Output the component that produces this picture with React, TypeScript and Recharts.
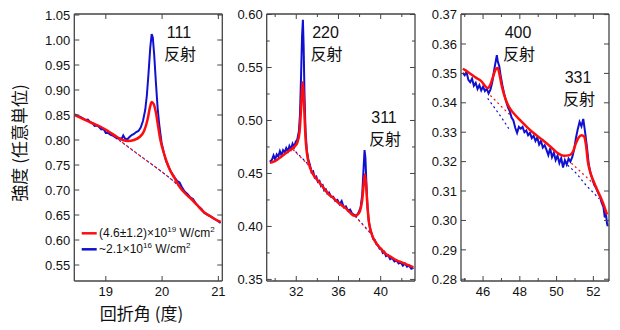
import React from "react";
import { LineChart, Line, XAxis, YAxis } from "recharts";

type Pt = [number, number];

const W = 620;
const H = 330;
const RED = "#ff0d0d";
const BLUE = "#1010d0";
const FRAME = "#444";
const FONT = '"Liberation Sans", Arial, Helvetica, sans-serif';
const CJK = '"Noto Sans CJK JP", "Noto Sans", sans-serif';

// ---- 111 reflection panel ----
const red111: Pt[] = [
  [18.45, 0.85], [18.6, 0.842], [18.75, 0.834], [18.9, 0.827], [19.05, 0.817], [19.2, 0.806],
  [19.3, 0.8], [19.4, 0.798], [19.5, 0.8], [19.6, 0.806], [19.68, 0.818], [19.74, 0.84],
  [19.79, 0.868], [19.815, 0.876], [19.85, 0.872], [19.89, 0.855], [19.93, 0.827], [19.97, 0.8],
  [20.02, 0.778], [20.08, 0.757], [20.14, 0.74], [20.22, 0.724], [20.32, 0.705], [20.42, 0.692],
  [20.52, 0.682], [20.62, 0.67], [20.73, 0.657], [20.85, 0.648], [20.95, 0.641], [21.04, 0.636],
];
const blue111: Pt[] = [
  [18.45, 0.851], [18.5, 0.848], [18.55, 0.846], [18.6, 0.843], [18.64, 0.84], [18.68, 0.841],
  [18.72, 0.836], [18.76, 0.834], [18.8, 0.828], [18.84, 0.829], [18.88, 0.826], [18.92, 0.821],
  [18.96, 0.822], [19.0, 0.814], [19.04, 0.814], [19.08, 0.811], [19.12, 0.809], [19.16, 0.806],
  [19.2, 0.803], [19.24, 0.804], [19.28, 0.802], [19.31, 0.809], [19.34, 0.803], [19.38, 0.801],
  [19.42, 0.806], [19.46, 0.81], [19.5, 0.812], [19.54, 0.816], [19.58, 0.818], [19.62, 0.825],
  [19.66, 0.838], [19.7, 0.86], [19.73, 0.89], [19.76, 0.935], [19.79, 0.985], [19.815, 1.012],
  [19.835, 1.005], [19.86, 0.97], [19.89, 0.915], [19.92, 0.865], [19.95, 0.83], [19.99, 0.795],
  [20.03, 0.775], [20.07, 0.758], [20.11, 0.748], [20.15, 0.738], [20.19, 0.731], [20.23, 0.724],
  [20.27, 0.718], [20.31, 0.715], [20.35, 0.706], [20.4, 0.697], [20.45, 0.692], [20.5, 0.685],
  [20.55, 0.682], [20.6, 0.673], [20.65, 0.667], [20.7, 0.662], [20.75, 0.654], [20.8, 0.651],
  [20.85, 0.648], [20.9, 0.645], [20.95, 0.641], [21.0, 0.637], [21.04, 0.634],
];
const redBase111: Pt[] = [[19.15, 0.808], [19.4, 0.786], [19.7, 0.761], [20.0, 0.736], [20.25, 0.713], [20.45, 0.692]];
const blueBase111: Pt[] = [[19.1, 0.812], [19.35, 0.79], [19.65, 0.765], [19.95, 0.74], [20.2, 0.718], [20.42, 0.694]];

// ---- 220 / 311 panel ----
const red220: Pt[] = [
  [29.5, 0.46], [29.8, 0.461], [30.2, 0.463], [30.6, 0.466], [31.0, 0.469], [31.4, 0.472],
  [31.8, 0.475], [32.1, 0.479], [32.3, 0.488], [32.45, 0.51], [32.55, 0.53], [32.62, 0.536],
  [32.7, 0.525], [32.78, 0.505], [32.88, 0.483], [33.0, 0.47], [33.2, 0.459], [33.5, 0.451],
  [33.9, 0.445], [34.3, 0.44], [34.7, 0.435], [35.1, 0.43], [35.5, 0.427], [35.9, 0.423],
  [36.3, 0.42], [36.7, 0.417], [37.1, 0.413], [37.5, 0.41], [37.8, 0.411], [38.05, 0.415],
  [38.25, 0.425], [38.4, 0.441], [38.5, 0.449], [38.6, 0.441], [38.72, 0.423], [38.85, 0.407],
  [39.0, 0.398], [39.3, 0.389], [39.6, 0.384], [40.0, 0.379], [40.5, 0.374], [41.0, 0.371],
  [41.5, 0.368], [42.0, 0.366], [42.5, 0.364], [43.1, 0.3615],
];
const blue220: Pt[] = [
  [29.5, 0.461], [29.7, 0.463], [29.85, 0.467], [30.0, 0.463], [30.15, 0.468], [30.3, 0.466],
  [30.45, 0.471], [30.6, 0.467], [30.75, 0.472], [30.9, 0.47], [31.05, 0.474], [31.2, 0.471],
  [31.35, 0.476], [31.5, 0.473], [31.65, 0.478], [31.8, 0.475], [31.95, 0.48], [32.1, 0.482],
  [32.25, 0.49], [32.35, 0.505], [32.45, 0.54], [32.55, 0.58], [32.63, 0.595], [32.7, 0.57],
  [32.78, 0.525], [32.88, 0.49], [33.0, 0.472], [33.15, 0.463], [33.3, 0.458], [33.45, 0.451],
  [33.6, 0.452], [33.75, 0.446], [33.9, 0.447], [34.05, 0.442], [34.2, 0.443], [34.35, 0.438],
  [34.5, 0.439], [34.65, 0.434], [34.8, 0.435], [34.95, 0.431], [35.1, 0.432], [35.3, 0.428],
  [35.5, 0.428], [35.7, 0.424], [35.9, 0.425], [36.1, 0.421], [36.3, 0.424], [36.5, 0.418],
  [36.7, 0.419], [36.9, 0.415], [37.1, 0.416], [37.3, 0.412], [37.5, 0.411], [37.7, 0.41],
  [37.9, 0.413], [38.1, 0.418], [38.25, 0.43], [38.38, 0.455], [38.47, 0.472], [38.55, 0.465],
  [38.65, 0.44], [38.75, 0.418], [38.87, 0.405], [39.0, 0.398], [39.15, 0.393], [39.3, 0.388],
  [39.45, 0.387], [39.6, 0.383], [39.75, 0.382], [39.9, 0.379], [40.05, 0.379], [40.2, 0.375],
  [40.35, 0.376], [40.5, 0.372], [40.7, 0.373], [40.9, 0.369], [41.1, 0.37], [41.3, 0.367],
  [41.5, 0.368], [41.7, 0.365], [41.9, 0.366], [42.1, 0.363], [42.3, 0.365], [42.5, 0.362],
  [42.7, 0.363], [42.9, 0.36], [43.1, 0.361],
];
const redBase220a: Pt[] = [[31.7, 0.4725], [32.1, 0.4685], [32.5, 0.4645], [32.9, 0.4605], [33.3, 0.456], [33.5, 0.453]];
const blueBase220a: Pt[] = [[31.6, 0.474], [32.0, 0.47], [32.4, 0.466], [32.8, 0.462], [33.2, 0.4575], [33.45, 0.454]];
const redBase311: Pt[] = [[37.6, 0.4095], [38.0, 0.405], [38.4, 0.4005], [38.8, 0.396], [39.2, 0.392]];
const blueBase311: Pt[] = [[37.55, 0.41], [37.95, 0.4058], [38.35, 0.4013], [38.75, 0.397], [39.15, 0.393]];

// ---- 400 / 331 panel ----
const red400: Pt[] = [
  [44.9, 0.3516], [45.1, 0.3508], [45.3, 0.3499], [45.5, 0.349], [45.7, 0.3482], [45.9, 0.3474],
  [46.1, 0.3458], [46.25, 0.345], [46.4, 0.3462], [46.55, 0.349], [46.7, 0.3515], [46.8, 0.3518],
  [46.9, 0.3495], [47.0, 0.3462], [47.1, 0.3437], [47.25, 0.3408], [47.45, 0.3382], [47.7, 0.3362],
  [48.0, 0.3342], [48.3, 0.3323], [48.6, 0.3305], [48.9, 0.329], [49.2, 0.3275], [49.5, 0.326],
  [49.8, 0.3243], [50.1, 0.3227], [50.4, 0.322], [50.7, 0.3222], [50.9, 0.3235], [51.05, 0.3262],
  [51.2, 0.3282], [51.35, 0.329], [51.5, 0.3285], [51.6, 0.3255], [51.7, 0.32], [51.85, 0.316],
  [52.0, 0.3135], [52.2, 0.3105], [52.4, 0.3078], [52.55, 0.3055], [52.7, 0.3028], [52.75, 0.302],
];
const blue400: Pt[] = [
  [44.9, 0.3502], [45.0, 0.3494], [45.1, 0.3505], [45.2, 0.3478], [45.3, 0.347], [45.4, 0.3482],
  [45.5, 0.3458], [45.6, 0.3468], [45.7, 0.3447], [45.8, 0.346], [45.9, 0.3442], [46.0, 0.3455],
  [46.1, 0.344], [46.2, 0.3448], [46.3, 0.3432], [46.4, 0.3445], [46.5, 0.347], [46.6, 0.351],
  [46.7, 0.3545], [46.75, 0.3562], [46.8, 0.354], [46.88, 0.3525], [46.95, 0.3495], [47.05, 0.346],
  [47.15, 0.343], [47.25, 0.3405], [47.35, 0.3385], [47.45, 0.3372], [47.55, 0.335], [47.65, 0.334],
  [47.75, 0.3315], [47.85, 0.3298], [47.95, 0.3318], [48.05, 0.3312], [48.15, 0.3318], [48.25, 0.33],
  [48.35, 0.3306], [48.45, 0.329], [48.55, 0.3298], [48.65, 0.328], [48.75, 0.3288], [48.85, 0.327],
  [48.95, 0.3282], [49.05, 0.3258], [49.15, 0.327], [49.25, 0.3248], [49.35, 0.3256], [49.45, 0.324],
  [49.55, 0.3222], [49.65, 0.3245], [49.75, 0.3215], [49.85, 0.323], [49.95, 0.3205], [50.05, 0.322],
  [50.15, 0.3195], [50.25, 0.3212], [50.35, 0.318], [50.45, 0.3205], [50.55, 0.319], [50.65, 0.321],
  [50.75, 0.32], [50.85, 0.3215], [50.95, 0.324], [51.05, 0.328], [51.15, 0.331], [51.25, 0.3335],
  [51.35, 0.332], [51.45, 0.3345], [51.55, 0.33], [51.65, 0.325], [51.75, 0.319], [51.85, 0.316],
  [51.95, 0.314], [52.05, 0.312], [52.15, 0.311], [52.25, 0.3095], [52.35, 0.3082], [52.45, 0.306],
  [52.55, 0.3045], [52.62, 0.301], [52.68, 0.3025], [52.74, 0.299], [52.78, 0.298],
];
const redBase400: Pt[] = [[46.4, 0.3425], [46.8, 0.34], [47.2, 0.3375], [47.5, 0.3357]];
const blueBase400: Pt[] = [[46.25, 0.3415], [46.6, 0.3385], [47.0, 0.335], [47.4, 0.3312]];
const redBase331: Pt[] = [[50.8, 0.3195], [51.3, 0.3166], [51.8, 0.3137], [52.2, 0.3113]];
const blueBase331: Pt[] = [[50.6, 0.3188], [51.1, 0.3158], [51.6, 0.312], [52.1, 0.3088], [52.3, 0.3074]];

// ---- ticks ----
const x111Ticks = [19, 20, 21];
const y111Ticks = [0.55, 0.6, 0.65, 0.7, 0.75, 0.8, 0.85, 0.9, 0.95, 1.0, 1.05];
const x220Ticks = [30, 32, 34, 36, 38, 40, 42];
const x220Major = [32, 36, 40];
const y220Ticks = [0.35, 0.375, 0.4, 0.425, 0.45, 0.475, 0.5, 0.525, 0.55, 0.575, 0.6];
const y220Major = [0.35, 0.4, 0.45, 0.5, 0.55, 0.6];
const x400Ticks = [45, 46, 47, 48, 49, 50, 51, 52];
const x400Major = [46, 48, 50, 52];
const y400Ticks = [0.28, 0.29, 0.3, 0.31, 0.32, 0.33, 0.34, 0.35, 0.36, 0.37];

const toObjs = (a: Pt[]) => a.map(([x, y]) => ({ x, y }));

function tickRenderer(side: string, major: number[], fmt?: (v: number) => string) {
  return (props: any) => {
    const { x, y, payload } = props;
    const v = payload.value;
    const isMajor = major.some((m) => Math.abs(m - v) < 1e-6);
    const len = isMajor ? 5 : 3;
    let l = { x1: x, y1: y, x2: x, y2: y };
    if (side === "left") l = { x1: x, y1: y, x2: x + len, y2: y };
    if (side === "right") l = { x1: x, y1: y, x2: x - len, y2: y };
    if (side === "top") l = { x1: x, y1: y, x2: x, y2: y + len };
    if (side === "bottom") l = { x1: x, y1: y, x2: x, y2: y - len };
    return (
      <g>
        <line {...l} stroke={FRAME} strokeWidth={1} />
        {fmt && isMajor && side === "left" ? (
          <text x={x - 4} y={y} dy="0.36em" textAnchor="end" fontSize={13} fontFamily={FONT} fill="#111">
            {fmt(v)}
          </text>
        ) : null}
        {fmt && isMajor && side === "bottom" ? (
          <text x={x} y={y + 15} textAnchor="middle" fontSize={13} fontFamily={FONT} fill="#111">
            {fmt(v)}
          </text>
        ) : null}
      </g>
    );
  };
}

type PanelProps = {
  plot: { left: number; right: number; top: number; bottom: number };
  xDomain: [number, number];
  yDomain: [number, number];
  xTicks: number[];
  xMajor: number[];
  yTicks: number[];
  yMajor: number[];
  yFmt: (v: number) => string;
  red: Pt[];
  blue: Pt[];
  redBase: Pt[][];
  blueBase: Pt[][];
};

function Panel(p: PanelProps) {
  const margin = {
    left: p.plot.left - 40,
    right: W - p.plot.right - 5,
    top: p.plot.top - 5,
    bottom: H - p.plot.bottom - 30,
  };
  const axisLine = { stroke: FRAME, strokeWidth: 1.3 };
  return (
    <div style={{ position: "absolute", left: 0, top: 0 }}>
      <LineChart width={W} height={H} margin={margin}>
        <XAxis xAxisId="b" type="number" dataKey="x" domain={p.xDomain} allowDataOverflow ticks={p.xTicks}
          interval={0} height={30} tickSize={0} tickMargin={0} tickLine={false} axisLine={axisLine}
          tick={tickRenderer("bottom", p.xMajor, (v) => String(v))} />
        <XAxis xAxisId="t" orientation="top" type="number" dataKey="x" domain={p.xDomain} allowDataOverflow
          ticks={p.xTicks} interval={0} height={5} tickSize={0} tickMargin={0} tickLine={false}
          axisLine={axisLine} tick={tickRenderer("top", p.xMajor)} />
        <YAxis yAxisId="l" type="number" domain={p.yDomain} allowDataOverflow ticks={p.yTicks} interval={0}
          width={40} tickSize={0} tickMargin={0} tickLine={false} axisLine={axisLine}
          tick={tickRenderer("left", p.yMajor, p.yFmt)} />
        <YAxis yAxisId="r" orientation="right" type="number" domain={p.yDomain} allowDataOverflow ticks={p.yTicks}
          interval={0} width={5} tickSize={0} tickMargin={0} tickLine={false} axisLine={axisLine}
          tick={tickRenderer("right", p.yMajor)} />
        {p.blueBase.map((b, i) => (
          <Line key={"bb" + i} xAxisId="b" yAxisId="l" data={toObjs(b)} dataKey="y" type="monotone"
            stroke={BLUE} strokeWidth={1.2} strokeDasharray="2 3" dot={false} isAnimationActive={false} />
        ))}
        {p.redBase.map((b, i) => (
          <Line key={"rb" + i} xAxisId="b" yAxisId="l" data={toObjs(b)} dataKey="y" type="monotone"
            stroke={RED} strokeWidth={1.2} strokeDasharray="2 3" dot={false} isAnimationActive={false} />
        ))}
        <Line xAxisId="b" yAxisId="l" data={toObjs(p.blue)} dataKey="y" type="linear" stroke={BLUE}
          strokeWidth={2} dot={false} isAnimationActive={false} />
        <Line xAxisId="b" yAxisId="l" data={toObjs(p.red)} dataKey="y" type="monotone" stroke={RED}
          strokeWidth={2.5} dot={false} isAnimationActive={false} />
      </LineChart>
    </div>
  );
}

function Note({ x, y, num }: { x: number; y: number; num: string }) {
  return (
    <g fill="#111" textAnchor="middle">
      <text x={x} y={y - 2} fontSize={16} fontFamily={FONT}>{num}</text>
      <text x={x + 1} y={y + 20} fontSize={16} fontFamily={CJK}>反射</text>
    </g>
  );
}

export default function App() {
  return (
    <div style={{ position: "absolute", left: 0, top: 0, width: W, height: H, background: "#fff" }}>
      <Panel plot={{ left: 74.3, right: 222.3, top: 14, bottom: 281 }} xDomain={[18.44, 21.07]}
        yDomain={[0.518, 1.052]} xTicks={x111Ticks} xMajor={x111Ticks} yTicks={y111Ticks} yMajor={y111Ticks}
        yFmt={(v) => v.toFixed(2)} red={red111} blue={blue111} redBase={[redBase111]} blueBase={[blueBase111]} />
      <Panel plot={{ left: 266.7, right: 415, top: 14, bottom: 281 }} xDomain={[29.2, 43.25]}
        yDomain={[0.3485, 0.6005]} xTicks={x220Ticks} xMajor={x220Major} yTicks={y220Ticks} yMajor={y220Major}
        yFmt={(v) => v.toFixed(2)} red={red220} blue={blue220} redBase={[redBase220a, redBase311]}
        blueBase={[blueBase220a, blueBase311]} />
      <Panel plot={{ left: 461, right: 609, top: 14, bottom: 281 }} xDomain={[44.8, 52.85]}
        yDomain={[0.2794, 0.3702]} xTicks={x400Ticks} xMajor={x400Major} yTicks={y400Ticks} yMajor={y400Ticks}
        yFmt={(v) => v.toFixed(2)} red={red400} blue={blue400} redBase={[redBase400, redBase331]}
        blueBase={[blueBase400, blueBase331]} />
      <svg width={W} height={H} style={{ position: "absolute", left: 0, top: 0, pointerEvents: "none" }}>
        <text transform="translate(26,143) rotate(-90)" textAnchor="middle" fontSize={17} fontFamily={CJK} fill="#111">
          強度 (任意単位)
        </text>
        <text x={141.5} y={320} textAnchor="middle" fontSize={17} fontFamily={CJK} fill="#111">
          回折角 (度)
        </text>
        <Note x={179} y={40} num="111" />
        <Note x={325.5} y={40} num="220" />
        <Note x={384} y={125} num="311" />
        <Note x={518} y={40} num="400" />
        <Note x={578} y={85} num="331" />
        <line x1={81.7} x2={96.7} y1={233.3} y2={233.3} stroke={RED} strokeWidth={2.5} />
        <text x={99} y={237} fontSize={12} fontFamily={FONT} fill="#111">
          (4.6±1.2)×10<tspan fontSize={8} dy={-5}>19</tspan>
          <tspan dy={5}> W/cm</tspan>
          <tspan fontSize={8} dy={-5}>2</tspan>
        </text>
        <line x1={81.7} x2={96.7} y1={249.3} y2={249.3} stroke={BLUE} strokeWidth={2.5} />
        <text x={99} y={253} fontSize={12} fontFamily={FONT} fill="#111">
          ~2.1×10<tspan fontSize={8} dy={-5}>16</tspan>
          <tspan dy={5}> W/cm</tspan>
          <tspan fontSize={8} dy={-5}>2</tspan>
        </text>
      </svg>
    </div>
  );
}
